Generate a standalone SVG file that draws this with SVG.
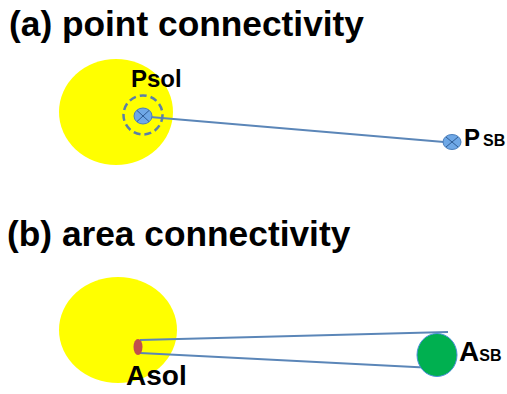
<svg xmlns="http://www.w3.org/2000/svg" width="507" height="394" viewBox="0 0 507 394">
<style>
.t{font-family:"Liberation Sans",Arial,sans-serif;font-weight:bold;fill:#000}
.sun{fill:#FFFF00}
.ln{stroke:#5B86B8;stroke-width:2;fill:none}
.pt{fill:#6FA8E6;stroke:#4A7EBB;stroke-width:1}
.x{stroke:#2F5D96;stroke-width:1}
</style>
<rect width="507" height="394" fill="#fff"/>
<text class="t" x="9" y="36" font-size="35.3">(a) point connectivity</text>
<text class="t" x="7" y="246" font-size="35.3">(b) area connectivity</text>
<g id="sun-a"><ellipse class="sun" cx="116" cy="112" rx="57" ry="53"/></g>
<g id="sun-b"><ellipse class="sun" cx="118" cy="330" rx="59" ry="53"/></g>
<g id="connectors">
<line class="ln" x1="150" y1="117" x2="444" y2="142"/>
<line class="ln" x1="140" y1="340" x2="448" y2="332"/>
<line class="ln" x1="140" y1="353" x2="434" y2="368"/>
</g>
<g id="psol">
<circle cx="143" cy="115" r="19.5" fill="none" stroke="#5B7FA8" stroke-width="2.5" stroke-dasharray="7,4"/>
<ellipse class="pt" cx="143" cy="116" rx="9" ry="8"/>
<path class="x" d="M137 110.5L149 121.5M149 110.5L137 121.5"/>
<text class="t" x="131" y="87" font-size="24">Psol</text>
</g>
<g id="psb">
<ellipse class="pt" cx="452" cy="142" rx="9" ry="7.5"/>
<path class="x" d="M446 137L458 147M458 137L446 147"/>
<text class="t" x="464" y="146" font-size="24">P<tspan x="483" font-size="16">SB</tspan></text>
</g>
<g id="asol">
<ellipse cx="138" cy="347" rx="4.5" ry="8" fill="#C0504D"/>
<text class="t" x="126" y="385" font-size="28">Asol</text>
</g>
<g id="asb">
<ellipse cx="437" cy="355" rx="20" ry="21.5" fill="#00B050" stroke="#4A90D9" stroke-width="1"/>
<text class="t" x="459" y="361" font-size="28">A<tspan font-size="16">SB</tspan></text>
</g>
</svg>
